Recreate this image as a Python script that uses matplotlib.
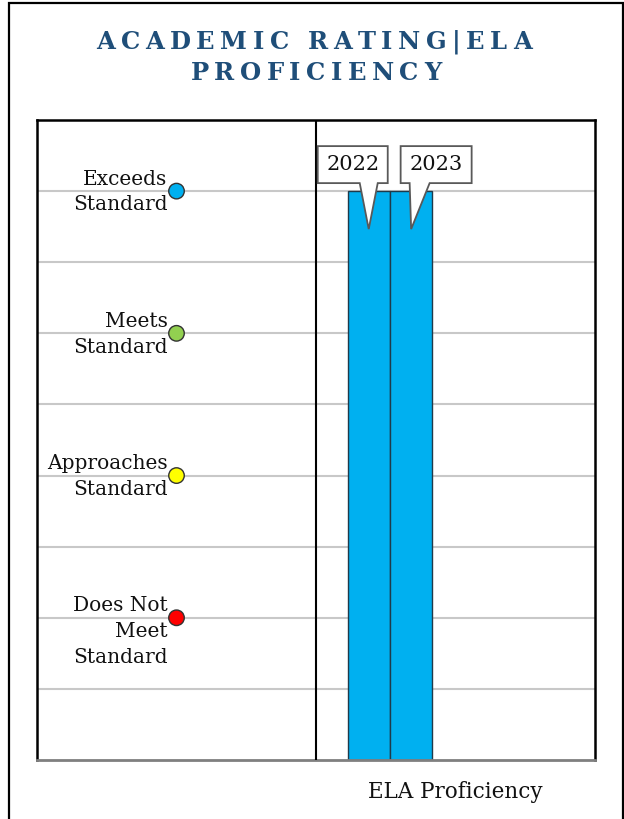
import matplotlib
matplotlib.use("Agg")
import numpy as np
import matplotlib.pyplot as plt
import matplotlib.transforms as mtransforms
from matplotlib.patches import Polygon, Rectangle
from matplotlib.font_manager import FontProperties

# ---------------- data ----------------
level_labels = ["Exceeds\nStandard", "Meets\nStandard", "Approaches\nStandard", "Does Not\nMeet\nStandard"]
level_values = [4, 3, 2, 1]
level_colors = ["#00B0F0", "#92D050", "#FFFF00", "#FF0000"]
years = ["2022", "2023"]
ratings = [4, 4]
category = "ELA Proficiency"
title_lines = ["ACADEMIC RATING|ELA", "PROFICIENCY"]

# ---------------- figure ----------------
W, H, DPI = 624, 819, 100
fig = plt.figure(figsize=(W / DPI, H / DPI), dpi=DPI)
fig.patch.set_facecolor("white")

# outer border
fig.patches.append(Rectangle((8.5 / W, -0.05), (622.5 - 8.5) / W, 1.05 - 2.5 / H,
                             transform=fig.transFigure, fill=False,
                             edgecolor="black", lw=1.6, zorder=0))

SERIF = "DejaVu Serif"
TXT = "#111111"
FS = 14.5

ax = fig.add_axes([37 / W, 1 - 760 / H, (595 - 37) / W, (760 - 120) / H])
ax.set_xlim(0, 2)
ax.set_ylim(0, 4.5)
ax.set_yticks(np.arange(0.5, 4.5, 0.5))
ax.set_xticks([])
ax.tick_params(axis="y", length=0, labelleft=False)
ax.grid(axis="y", color="#C8C8C8", lw=1.5)
ax.set_axisbelow(True)
for s in ["left", "top", "right"]:
    ax.spines[s].set_color("black")
    ax.spines[s].set_linewidth(1.8)
ax.spines["bottom"].set_color("#7F7F7F")
ax.spines["bottom"].set_linewidth(2)

# divider between label panel and chart panel
ax.axvline(1, color="black", lw=1.5, zorder=3)

# level markers and labels
ax.scatter([0.5] * len(level_values), level_values, s=125, c=level_colors,
           edgecolors="#333333", linewidths=1, zorder=5, clip_on=False)
for lab, v in zip(level_labels, level_values):
    ax.annotate(lab, xy=(0.5, v), xytext=(-6.5, 15.5), textcoords="offset points",
                ha="right", va="top", multialignment="right",
                fontsize=FS, family=SERIF, color=TXT, linespacing=1.45)

# bars
bar_w = 0.152
group_c = 1.265
xs = [group_c - bar_w / 2, group_c + bar_w / 2]
ax.bar(xs, ratings, width=bar_w, color="#00B0F0", edgecolor="#1F3A4A",
       linewidth=1, zorder=2)

# callouts (shape offsets in pixels relative to bar top center)
shapes = [
    dict(box=(-51, 19), base=(-9, 9), text_dx=-16),
    dict(box=(-10.5, 60.5), base=(-1.5, 18.5), text_dx=25),
]
for x, v, yr, sh in zip(xs, ratings, years, shapes):
    bx0, bx1 = sh["box"]
    b0, b1 = sh["base"]
    top, bot, tip = 45, 8, -38
    verts = [(bx0, bot), (bx0, top), (bx1, top), (bx1, bot), (b1, bot), (0, tip), (b0, bot)]
    verts = [(px / DPI, py / DPI) for px, py in verts]
    tr = fig.dpi_scale_trans + mtransforms.ScaledTranslation(x, v, ax.transData)
    ax.add_patch(Polygon(verts, closed=True, transform=tr, facecolor="white",
                         edgecolor="#595959", lw=1.3, zorder=6, clip_on=False))
    ax.annotate(yr, xy=(x, v), xytext=(sh["text_dx"] * 0.72, 26.5 * 0.72),
                textcoords="offset points", ha="center", va="center",
                fontsize=15, family=SERIF, color=TXT, zorder=7)

# category label
ax.annotate(category, xy=(1.5, 0), xytext=(0, -32 * 0.72), textcoords="offset points",
            ha="center", va="center", fontsize=15.5, family=SERIF, color=TXT)

# ---------------- title with letter spacing ----------------
renderer = fig.canvas.get_renderer()
tprop = FontProperties(family=SERIF, weight="bold", size=17.5)
TRACK = 5.5
SPACE = 8.0


def char_w(ch):
    if ch == " ":
        return SPACE
    return renderer.get_text_width_height_descent(ch, tprop, ismath=False)[0]


def spaced_title(s, cx, baseline_px):
    ws = [char_w(c) for c in s]
    total = sum(ws) + TRACK * (len(s) - 1)
    x = cx - total / 2
    for c, w in zip(s, ws):
        if c != " ":
            fig.text(x / W, 1 - baseline_px / H, c, fontproperties=tprop,
                     color="#1F4E79", ha="left", va="baseline")
        x += w + TRACK


spaced_title(title_lines[0], 314, 49)
spaced_title(title_lines[1], 316, 80)

fig.savefig("out.png", dpi=DPI)
